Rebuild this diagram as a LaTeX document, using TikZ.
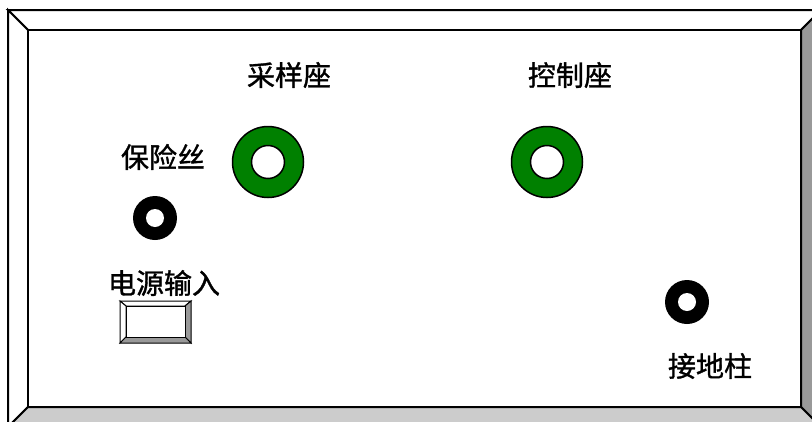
\documentclass[tikz,border=0pt]{standalone}
\usepackage{fontspec}
\newfontfamily\cjk[FakeBold=1.2]{Noto Sans CJK SC}
\definecolor{ringgreen}{HTML}{008000}
\definecolor{bevdark}{HTML}{999999}
\definecolor{bevlight}{HTML}{CCCCCC}
\tikzset{
  lbl/.style={font=\cjk\fontsize{28}{32}\selectfont, inner sep=0pt},
  frameline/.style={draw=black, line width=2pt, line join=miter},
  gring/.style={circle, fill=ringgreen, draw=black, line width=1.5pt, minimum size=71pt, inner sep=0pt},
  ghole/.style={circle, fill=white, draw=black, line width=1.5pt, minimum size=33pt, inner sep=0pt},
  bring/.style={circle, fill=black, minimum size=44pt, inner sep=0pt},
  bhole/.style={circle, fill=white, minimum size=18pt, inner sep=0pt},
}
\begin{document}
\begin{tikzpicture}[x=1pt,y=-1pt]
\useasboundingbox (0,0) rectangle (812,421);
% frame bevels
\path[frameline, fill=white] (8,10) -- (821,10) -- (801,30) -- (28,30) -- cycle;
\path[frameline, fill=white] (8,10) -- (28,30) -- (28,407) -- (8,427) -- cycle;
\path[frameline, fill=bevdark] (821,10) -- (821,427) -- (801,407) -- (801,30) -- cycle;
\path[frameline, fill=bevlight] (8,427) -- (28,407) -- (801,407) -- (821,427) -- cycle;
\path[frameline, fill=white] (28,30) rectangle (801,407);
% labels
\node[lbl] (caiyang) at (289,75) {采样座};
\node[lbl] (kongzhi) at (570,75) {控制座};
\node[lbl] (baoxian) at (163,157) {保险丝};
\node[lbl] (dianyuan) at (164,283) {电源输入};
\node[lbl] (jiedi) at (710,366) {接地柱};
% green sockets
\node[gring] (s1) at (268,162) {};
\node[ghole] (s1h) at (s1) {};
\node[gring] (s2) at (547,162) {};
\node[ghole] (s2h) at (s2) {};
% black terminals
\node[bring] (fuse) at (155,218) {};
\node[bhole] (fuseh) at (fuse) {};
\node[bring] (gnd) at (687,302) {};
\node[bhole] (gndh) at (gnd) {};
% power switch
\path[draw=black, line width=1pt, fill=white] (120,301) -- (191,301) -- (185,306) -- (126,306) -- cycle;
\path[draw=black, line width=1pt, fill=white] (120,301) -- (126,306) -- (126,337) -- (120,343) -- cycle;
\path[draw=black, line width=1pt, fill=bevdark] (191,301) -- (191,343) -- (185,337) -- (185,306) -- cycle;
\path[draw=black, line width=1pt, fill=bevdark] (120,343) -- (126,337) -- (185,337) -- (191,343) -- cycle;
\node[draw=black, line width=1pt, fill=white, minimum width=59pt, minimum height=31pt, inner sep=0pt] (sw) at (155.5,321.5) {};
\end{tikzpicture}
\end{document}
